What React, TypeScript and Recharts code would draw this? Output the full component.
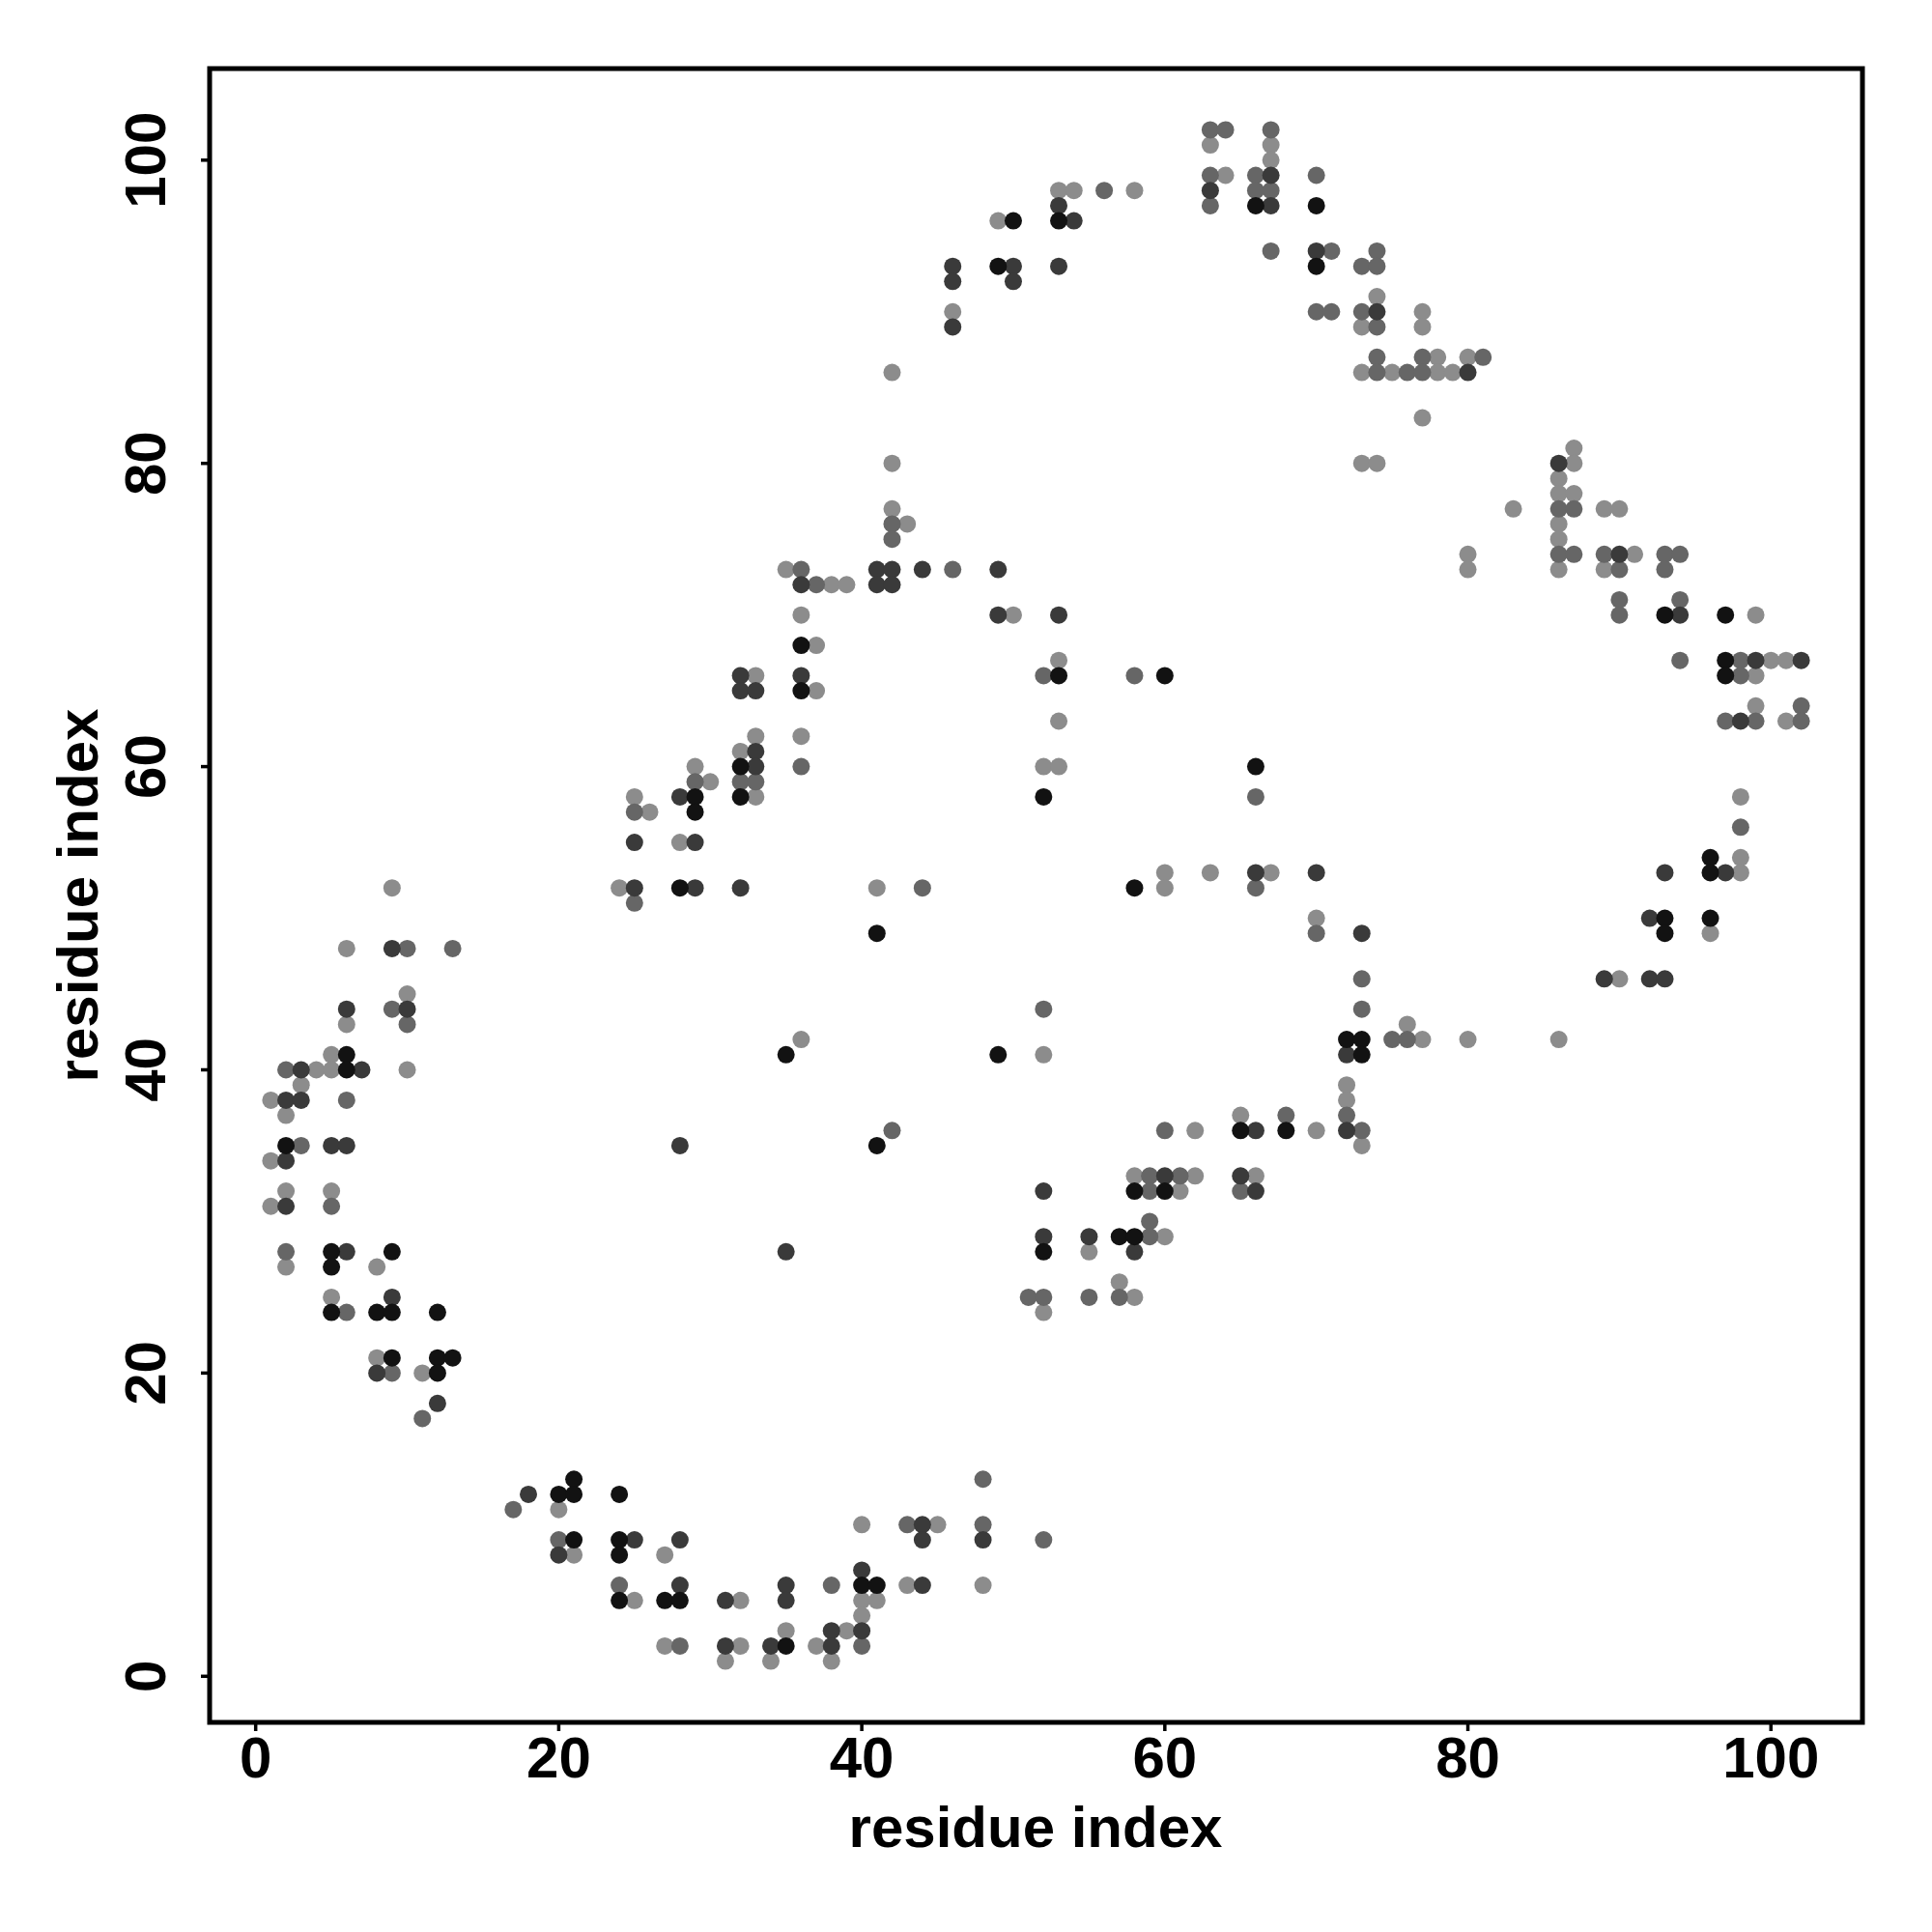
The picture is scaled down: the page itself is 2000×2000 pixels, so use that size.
import { ScatterChart, Scatter, XAxis, YAxis, ReferenceArea, Label } from 'recharts'

// Contact map: residue pairs, grouped by the grey level of the dot.
type Pair = [number, number]

const blackContacts: Pair[] = [
  [2, 35], [5, 28], [5, 27], [5, 24], [6, 41], [6, 40], [8, 24], [9, 28], [9, 24], [9, 21], [12, 24], [12, 21], [12, 20], [13, 21],
  [20, 12], [21, 13], [21, 12], [21, 9], [24, 12], [24, 9], [24, 8], [24, 5], [27, 5], [28, 5], [35, 2], [40, 6], [41, 6],
  [28, 52], [29, 58], [29, 57], [32, 60], [32, 58], [35, 41], [36, 68], [36, 65],
  [41, 49], [41, 35], [49, 93], [50, 96], [53, 96], [49, 41], [52, 58], [53, 66], [58, 52], [60, 66], [66, 60], [66, 97], [70, 97], [70, 93],
  [52, 28], [57, 29], [58, 32], [58, 29], [60, 32], [65, 36], [68, 36], [72, 42], [73, 42], [73, 41],
  [93, 70], [93, 50], [93, 49], [96, 54], [96, 53], [96, 50], [97, 70], [97, 67], [97, 66],
]

const darkContacts: Pair[] = [
  [2, 38], [2, 34], [2, 31], [3, 40], [3, 38], [5, 35], [6, 44], [6, 35], [6, 28], [7, 40], [8, 20], [9, 48], [9, 25], [10, 44], [12, 18],
  [18, 12], [20, 8], [25, 9], [28, 9], [28, 6], [31, 5], [31, 2], [34, 2], [35, 6], [35, 5], [38, 3], [38, 2], [40, 7], [40, 3], [44, 10], [44, 9], [44, 6], [48, 9],
  [25, 55], [25, 52], [28, 58], [29, 55], [29, 52], [32, 66], [32, 65], [32, 52], [33, 65], [33, 61], [33, 60], [36, 72], [36, 66], [28, 35], [35, 28],
  [41, 73], [41, 72], [42, 73], [42, 72], [44, 73], [46, 93], [46, 92], [46, 89], [49, 73], [49, 70], [50, 93], [50, 92], [53, 97], [53, 93], [53, 70], [54, 96],
  [63, 98], [67, 99], [67, 97], [70, 94], [74, 90], [80, 86],
  [52, 32], [52, 29], [55, 29], [58, 28], [60, 33], [65, 33], [66, 36], [66, 32], [70, 53], [72, 41], [72, 36], [73, 49],
  [66, 53], [89, 46], [90, 74], [92, 50], [92, 46], [93, 53], [93, 46], [94, 70], [97, 53], [98, 63], [99, 67], [102, 67], [86, 80],
]

const midContacts: Pair[] = [
  [2, 40], [2, 28], [3, 35], [5, 31], [6, 38], [6, 24], [9, 44], [9, 20], [10, 48], [10, 43], [11, 17], [13, 48],
  [17, 11], [20, 9], [24, 6], [28, 2], [38, 6], [40, 2], [43, 10], [48, 13], [48, 10], [52, 9],
  [25, 57], [25, 51], [29, 59], [32, 59], [33, 59], [36, 73], [36, 60], [37, 72], [42, 36],
  [42, 76], [42, 75], [44, 52], [46, 73], [52, 66], [52, 44], [56, 98], [58, 66],
  [63, 102], [63, 99], [63, 97], [64, 102], [66, 99], [66, 98], [67, 102], [67, 98], [67, 94], [70, 99], [70, 90], [71, 94], [71, 90],
  [73, 93], [73, 90], [74, 94], [74, 93], [74, 89], [74, 87], [74, 86], [76, 86], [77, 87], [77, 86], [81, 87],
  [86, 77], [86, 74], [87, 77], [87, 74], [89, 74], [90, 73], [90, 71], [90, 70], [93, 74], [93, 73], [94, 74], [94, 71], [94, 67],
  [97, 63], [98, 67], [98, 66], [98, 56], [99, 63], [102, 64], [102, 63],
  [51, 25], [52, 25], [55, 25], [57, 25], [59, 33], [59, 32], [59, 30], [59, 29], [60, 36], [61, 33], [65, 32], [66, 52], [66, 58],
  [68, 37], [70, 49], [72, 37], [73, 46], [73, 44], [73, 36], [75, 42], [76, 42],
]

const lightContacts: Pair[] = [
  [1, 38], [1, 34], [1, 31], [2, 37], [2, 32], [2, 27], [3, 39], [4, 40], [5, 41], [5, 40], [5, 32], [5, 25], [6, 48], [6, 43], [8, 27], [8, 21], [9, 52], [10, 45], [10, 40], [11, 20],
  [20, 11], [21, 8], [25, 5], [27, 8], [27, 2], [31, 1], [32, 5], [32, 2], [34, 1], [35, 3], [37, 2], [38, 1], [39, 3], [40, 10], [40, 5], [40, 4], [41, 5], [43, 6], [45, 10], [48, 6],
  [24, 52], [25, 58], [26, 57], [28, 55], [29, 60], [30, 59], [32, 61], [33, 66], [33, 62], [33, 58], [35, 73], [36, 70], [36, 62], [36, 42], [37, 68], [37, 65], [38, 72], [39, 72],
  [41, 52], [42, 86], [42, 80], [42, 77], [43, 76], [49, 96], [50, 70], [46, 90], [52, 60], [52, 41], [53, 98], [53, 67], [53, 63], [53, 60], [54, 98], [58, 98],
  [60, 53], [60, 52], [63, 53], [67, 53], [63, 101], [64, 99], [67, 101], [67, 100],
  [73, 89], [73, 86], [73, 80], [74, 91], [74, 80], [75, 86], [77, 90], [77, 89], [77, 83], [78, 87], [78, 86], [79, 86], [80, 87],
  [80, 74], [80, 73], [83, 77], [86, 79], [86, 78], [86, 76], [86, 75], [86, 73], [86, 42], [87, 81], [87, 80], [87, 78], [89, 77], [89, 73], [90, 77], [90, 46], [91, 74],
  [96, 49], [98, 58], [98, 54], [98, 53], [99, 70], [99, 66], [99, 64], [100, 67], [101, 67], [101, 63],
  [52, 24], [55, 28], [57, 26], [58, 33], [58, 25], [60, 29], [61, 32], [62, 36], [62, 33], [65, 37], [66, 33], [70, 36], [70, 50],
  [72, 39], [72, 38], [73, 35], [76, 43], [77, 42], [80, 42],
]

const axisTicks = [0, 20, 40, 60, 80, 100]
const axisTitle = 'residue index'

// R's default 4% padding around the 1..102 residue range
const DOMAIN: [number, number] = [-3.04, 106.04]

const FONT = { fontFamily: '"Liberation Sans", Arial, sans-serif', fontWeight: 'bold' as const, fontSize: 60, fill: '#000' }

const toPoints = (pairs: Pair[]) => pairs.map(([x, y]) => ({ x, y }))

const dot = (color: string) => (props: any) => (
  <circle cx={props.cx} cy={props.cy} r={9} fill={color} />
)

const series = [
  { name: 'light', color: '#8c8c8c', pairs: lightContacts },
  { name: 'mid', color: '#666666', pairs: midContacts },
  { name: 'dark', color: '#3a3a3a', pairs: darkContacts },
  { name: 'black', color: '#121212', pairs: blackContacts },
]

export default function App() {
  return (
    <div style={{ position: 'absolute', left: 0, top: 0, background: '#fff' }}>
      <ScatterChart width={2000} height={2000} margin={{ top: 71, right: 72, bottom: 0, left: 0 }}>
        <XAxis
          type="number"
          dataKey="x"
          domain={DOMAIN}
          allowDataOverflow
          ticks={axisTicks}
          interval={0}
          height={217}
          axisLine={false}
          tickSize={9}
          tickLine={{ stroke: '#000', strokeWidth: 3.5 }}
          tick={(p: any) => (
            <text x={p.x} y={1840} textAnchor="middle" {...FONT}>{p.payload.value}</text>
          )}
        >
          <Label
            content={() => (
              <text x={1072} y={1912} textAnchor="middle" {...FONT}>{axisTitle}</text>
            )}
          />
        </XAxis>
        <YAxis
          type="number"
          dataKey="y"
          domain={DOMAIN}
          allowDataOverflow
          ticks={axisTicks}
          interval={0}
          width={217}
          axisLine={false}
          tickSize={9}
          tickLine={{ stroke: '#000', strokeWidth: 3.5 }}
          tick={(p: any) => (
            <text x={171} y={p.y} transform={`rotate(-90, 171, ${p.y})`} textAnchor="middle" {...FONT}>
              {p.payload.value}
            </text>
          )}
        >
          <Label
            content={() => (
              <text x={101} y={927} transform="rotate(-90, 101, 927)" textAnchor="middle" {...FONT}>
                {axisTitle}
              </text>
            )}
          />
        </YAxis>
        {series.map((s) => (
          <Scatter
            key={s.name}
            name={s.name}
            data={toPoints(s.pairs)}
            shape={dot(s.color)}
            isAnimationActive={false}
          />
        ))}
        <ReferenceArea
          x1={DOMAIN[0]}
          x2={DOMAIN[1]}
          y1={DOMAIN[0]}
          y2={DOMAIN[1]}
          fill="none"
          fillOpacity={0}
          stroke="#000"
          strokeWidth={5}
          ifOverflow="visible"
        />
      </ScatterChart>
    </div>
  )
}
